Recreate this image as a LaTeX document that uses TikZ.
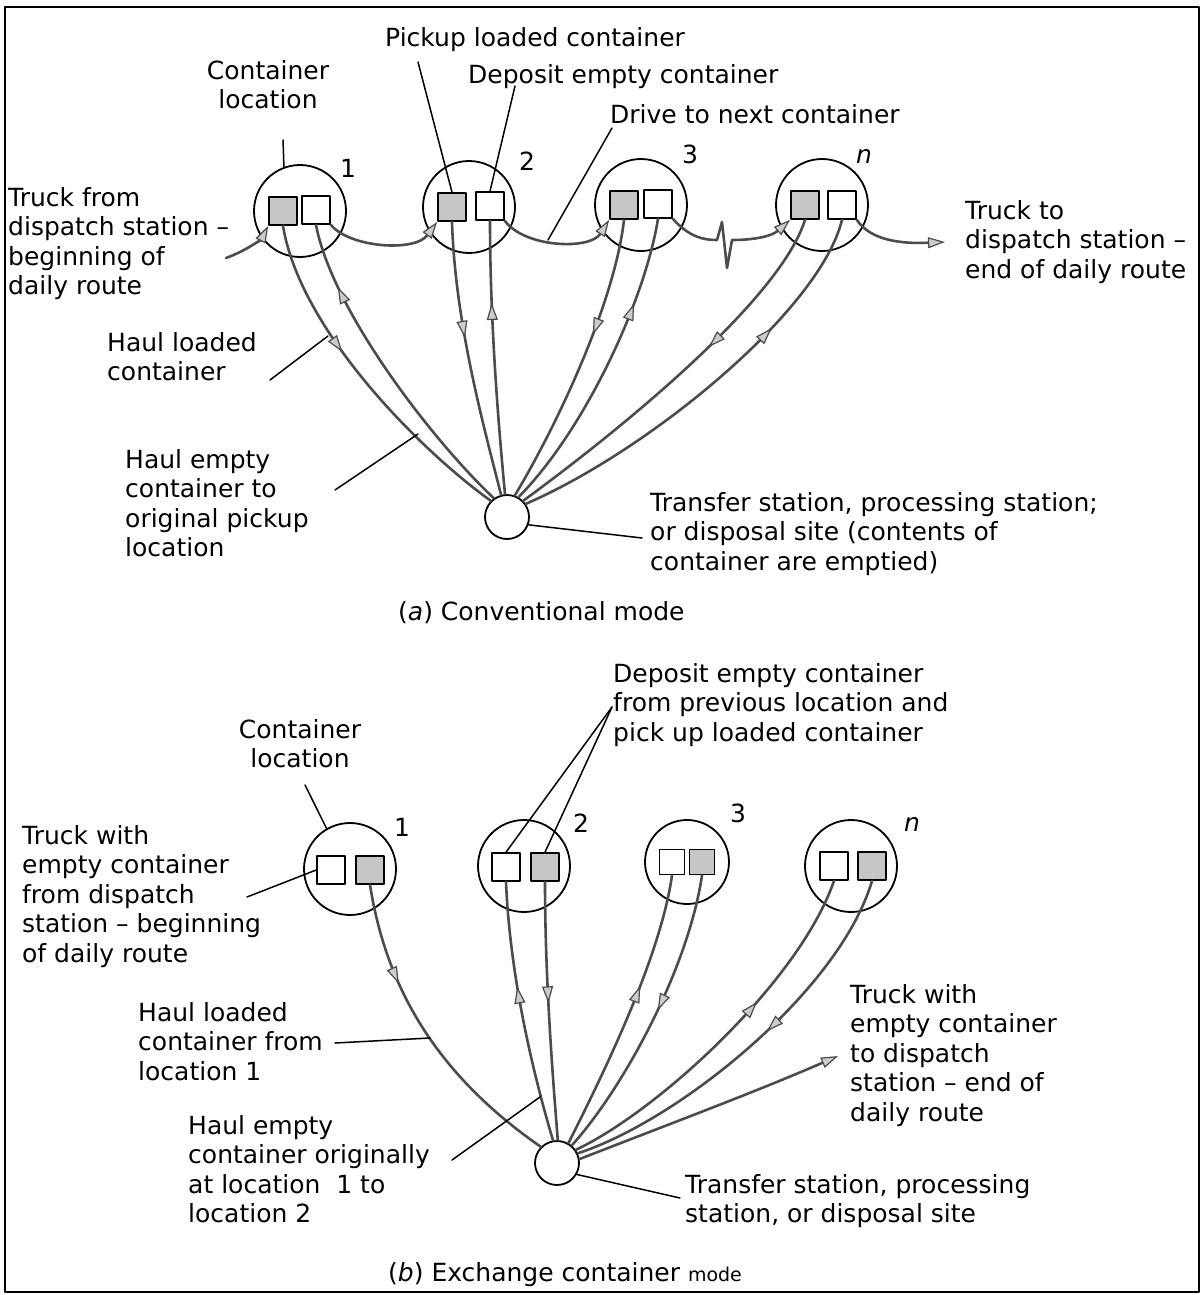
\documentclass[tikz,border=0pt]{standalone}
\usepackage{fontspec}
\setmainfont{DejaVu Sans}
\usetikzlibrary{arrows.meta}
\usetikzlibrary{decorations.markings}
\usetikzlibrary{positioning}
\tikzset{
  gtip/.tip={Triangle[fill=gray!40,length=17pt,width=11pt,line width=1.2pt]},
  loc/.style={circle,draw,line width=1.8pt,minimum size=92pt,inner sep=0pt},
  site/.style={circle,draw,line width=1.8pt,minimum size=44pt,inner sep=0pt},
  fullbox/.style={draw,line width=1.6pt,fill=gray!45,minimum size=28pt,inner sep=0pt},
  emptybox/.style={draw,line width=1.6pt,fill=white,minimum size=28pt,inner sep=0pt},
  route/.style={line width=2.6pt,draw=black!70},
  lead/.style={line width=1.5pt},
  lbl/.style={inner sep=0pt,anchor=north west,align=left,font=\fontsize{25}{29.5}\selectfont},
  num/.style={inner sep=0pt,font=\fontsize{25}{28}\selectfont},
  fwd/.style={postaction={decorate,decoration={markings,mark=at position #1 with {\arrow{gtip}}}}},
  bwd/.style={postaction={decorate,decoration={markings,mark=at position #1 with {\arrowreversed{gtip}}}}}
}
\begin{document}
\begin{tikzpicture}[x=1pt,y=-1pt,line cap=round,line join=round]
\useasboundingbox (0,0) rectangle (1203,1295);
\draw [line width=1.4pt] (5,7) rectangle (1199,1292);
% (a) conventional mode
\node[loc] (a1) at (300,211) {};
\node[loc] (a2) at (469,207) {};
\node[loc] (a3) at (641,205) {};
\node[loc] (a4) at (822,205) {};
\node[fullbox] (a1g) at (283,211) {};
\node[emptybox] (a1w) at (316,210) {};
\node[fullbox] (a2g) at (452,207) {};
\node[emptybox] (a2w) at (490,206) {};
\node[fullbox] (a3g) at (624,205) {};
\node[emptybox] (a3w) at (658,204) {};
\node[fullbox] (a4g) at (805,205) {};
\node[emptybox] (a4w) at (842,205) {};
\node[site] (asite) at (507,517) {};
\node[num] (n1) at (348,168) {1};
\node[num] (n2) at (527,161) {2};
\node[num] (n3) at (690,154) {3};
\node[num] (n4) at (864,156) {\textit{n}};
\node[lbl] (tPickup) at (385,27) {Pickup loaded container};
\node[lbl,align=center,anchor=north] (tConLocA) at (268,60) {Container\\location};
\node[lbl] (tDeposit) at (468,64) {Deposit empty container};
\node[lbl] (tDrive) at (610,104) {Drive to next container};
\node[lbl] (tTruckFrom) at (8,187) {Truck from\\dispatch station –\\beginning of\\daily route};
\node[lbl] (tTruckTo) at (965,200) {Truck to\\dispatch station –\\end of daily route};
\node[lbl] (tHaulLoaded) at (107,332) {Haul loaded\\container};
\node[lbl] (tHaulEmpty) at (125,449) {Haul empty\\container to\\original pickup\\location};
\node[lbl] (tTransfer) at (650,492) {Transfer station, processing station;\\or disposal site (contents of\\container are emptied)};
\node[lbl] (capA) at (398,601) {(\textit{a}) Conventional mode};
\coordinate (ain) at (226,258);
\coordinate (aout) at (945,242);
\draw[route,-{gtip}] (ain) .. controls (248,250) and (262,238) .. (a1g.south west);
\draw[route,-{gtip}] (a1w.south east) .. controls (350,248) and (415,252) .. (a2g.south west);
\draw[route,-{gtip}] (a2w.south east) .. controls (525,248) and (590,250) .. (a3g.south west);
\draw[route,-{gtip}] (a3w.south east) .. controls (690,238) and (705,240) .. (717,240) -- (722,222) -- (727,268) -- (732,240) .. controls (755,240) and (772,236) .. (a4g.south west);
\draw[route,-{gtip}] (a4w.south east) .. controls (870,240) and (900,244) .. (aout);
\draw[route,fwd=0.4] (a1g.south) .. controls (300,330) and (420,450) .. (asite.135);
\draw[route,bwd=0.2] (a1w.south) .. controls (332,310) and (432,440) .. (asite.125);
\draw[route,fwd=0.42] (a2g.south) .. controls (455,320) and (482,420) .. (asite.105);
\draw[route,bwd=0.3] (a2w.south) .. controls (490,320) and (498,420) .. (asite.95);
\draw[route,fwd=0.4] (a3g.south) .. controls (615,300) and (560,420) .. (asite.70);
\draw[route,bwd=0.28] (a3w.south) .. controls (645,300) and (585,430) .. (asite.60);
\draw[route,fwd=0.4] (a4g.south) .. controls (780,300) and (620,430) .. (asite.45);
\draw[route,bwd=0.3] (a4w.south) .. controls (820,310) and (650,450) .. (asite.35);
\draw[lead] (283,140) -- (a1.110);
\draw[lead] (418,62) -- (a2g.north);
\draw[lead] (515,86) -- (a2w.north);
\draw[lead] (612,128) -- (548,240);
\draw[lead] (270,380) -- (328,336);
\draw[lead] (335,490) -- (418,434);
\draw[lead] (asite.-20) -- (642,538);
% (b) exchange container mode
\node[loc] (b1) at (350,869) {};
\node[loc] (b2) at (524,866) {};
\node[loc,minimum size=84pt] (b3) at (687,862) {};
\node[loc] (b4) at (851,866) {};
\node[emptybox] (b1w) at (331,870) {};
\node[fullbox] (b1g) at (370,870) {};
\node[emptybox] (b2w) at (506,867) {};
\node[fullbox] (b2g) at (545,867) {};
\node[emptybox,minimum size=25pt] (b3w) at (672,862) {};
\node[fullbox,minimum size=25pt] (b3g) at (702,862) {};
\node[emptybox] (b4w) at (834,866) {};
\node[fullbox] (b4g) at (872,866) {};
\node[site] (bsite) at (557,1163) {};
\node[num] (m1) at (402,827) {1};
\node[num] (m2) at (581,823) {2};
\node[num] (m3) at (738,813) {3};
\node[num] (m4) at (912,824) {\textit{n}};
\node[lbl,align=center,anchor=north] (tConLocB) at (300,719) {Container\\location};
\node[lbl] (tDepositB) at (613,663) {Deposit empty container\\from previous location and\\pick up loaded container};
\node[lbl] (tTruckWith) at (22,825) {Truck with\\empty container\\from dispatch\\station – beginning\\of daily route};
\node[lbl] (tHaulLoadedB) at (138,1002) {Haul loaded\\container from\\location 1};
\node[lbl] (tHaulEmptyB) at (188,1115) {Haul empty\\container originally\\at location\ \ 1 to\\location 2};
\node[lbl] (tTruckEnd) at (850,984) {Truck with\\empty container\\to dispatch\\station – end of\\daily route};
\node[lbl] (tTransferB) at (685,1174) {Transfer station, processing\\station, or disposal site};
\node[lbl] (capB) at (388,1262) {(\textit{b}) Exchange container {\fontsize{19}{22}\selectfont mode}};
\coordinate (bout) at (838,1056);
\coordinate (dp) at (612,707);
\draw[route,fwd=0.32] (b1g.south) .. controls (385,980) and (430,1070) .. (bsite.135);
\draw[route,bwd=0.4] (b2w.south) .. controls (510,980) and (535,1080) .. (bsite.100);
\draw[route,fwd=0.47] (b2g.south) .. controls (545,980) and (553,1080) .. (bsite.88);
\draw[route,bwd=0.4] (b3w.south) .. controls (660,960) and (600,1080) .. (bsite.60);
\draw[route,fwd=0.47] (b3g.south) .. controls (688,970) and (622,1090) .. (bsite.50);
\draw[route,bwd=0.38] (b4w.south) .. controls (800,980) and (660,1110) .. (bsite.35);
\draw[route,fwd=0.45] (b4g.south) .. controls (840,990) and (680,1120) .. (bsite.25);
\draw[route,-{gtip}] (bsite.10) .. controls (680,1120) and (760,1090) .. (bout);
\draw[lead] (305,785) -- (b1.120);
\draw[lead] (dp) -- (b2w.north);
\draw[lead] (dp) -- (b2g.north);
\draw[lead] (247,897) -- (b1w.west);
\draw[lead] (335,1043) -- (430,1038);
\draw[lead] (452,1160) -- (540,1097);
\draw[lead] (bsite.-30) -- (680,1198);
\end{tikzpicture}
\end{document}
